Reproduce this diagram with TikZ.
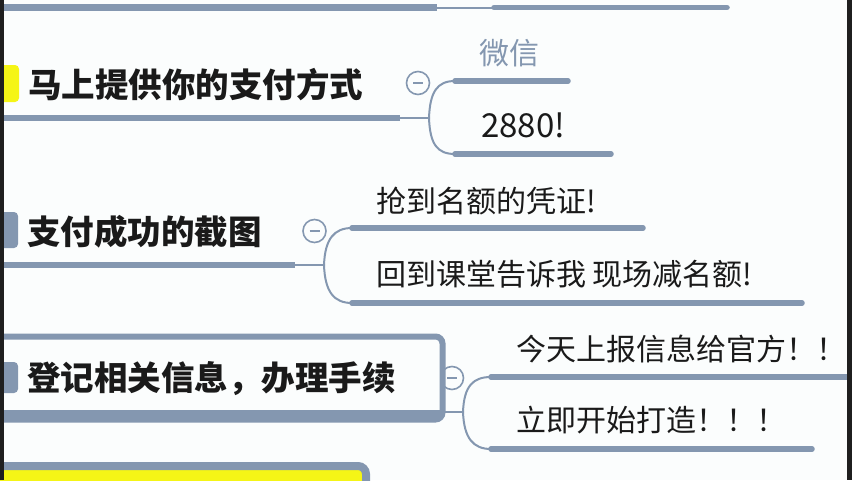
\documentclass[tikz,border=0pt]{standalone}
\usepackage{fontspec}
\newfontfamily\cjk{Noto Sans CJK SC}
\usetikzlibrary{positioning}
\definecolor{linegray}{RGB}{132,151,176}
\definecolor{bgwhite}{RGB}{251,253,253}
\definecolor{markyellow}{RGB}{245,245,22}
\definecolor{inkblack}{RGB}{26,26,26}

\begin{document}
\begin{tikzpicture}[x=1pt,y=-1pt,
  topic/.style={anchor=west,inner sep=0pt,text=inkblack,font=\cjk\bfseries\fontsize{33.5}{40}\selectfont},
  leaf/.style={anchor=west,inner sep=0pt,text=inkblack,font=\cjk\fontsize{30}{36}\selectfont},
  bar/.style={line width=6.5pt,linegray},
  subbar/.style={line width=5.5pt,linegray,line cap=round},
  twig/.style={line width=2pt,linegray},
  fold/.style={circle,draw=linegray,text=linegray,line width=1.6pt,minimum size=23pt,inner sep=0pt,fill=bgwhite},
  badge/.style={rounded corners=4pt}]
\useasboundingbox (0,0) rectangle (852,480);
\clip (0,0) rectangle (852,480);
\fill[bgwhite] (0,0) rectangle (852,480);

% end of the branch above
\draw[bar] (0,7.5) -- (437,7.5);
\draw[twig] (437,7.5) -- (492,7.5);
\draw[subbar] (494,7.5) -- (727,7.5);

% topic 1
\fill[markyellow,badge] (-12,65) rectangle (19,102);
\node[topic] (pay) at (28,85) {马上提供你的支付方式};
\coordinate (payend) at (400,118);
\coordinate (payfork) at (429,118);
\draw[bar] (0,118) -- (payend);
\draw[twig] (payend) -- (payfork);
\node[fold] (payfold) at (418,83) {\rule{10pt}{1.4pt}};
\node[leaf,text=linegray] (wx) at (479,53.5) {微信};
\node[leaf,font=\cjk\fontsize{33}{38}\selectfont] (sum) at (481,125.5) {2880!};
\coordinate (wxa) at (455,81);
\coordinate (suma) at (455,154);
\draw[twig] (payfork) .. controls +(1,-26) and +(-18,0) .. (wxa);
\draw[twig] (payfork) .. controls +(1,26) and +(-18,0) .. (suma);
\draw[subbar] (wxa) -- (568,81);
\draw[subbar] (suma) -- (611,154);

% topic 2
\fill[linegray,badge] (-12,212) rectangle (18,248);
\node[topic] (shot) at (27,232) {支付成功的截图};
\coordinate (shotend) at (295,265);
\coordinate (shotfork) at (324,265);
\draw[bar] (0,265) -- (shotend);
\draw[twig] (shotend) -- (shotfork);
\node[fold] (shotfold) at (314.5,231) {\rule{10pt}{1.4pt}};
\node[leaf] (proof) at (376,201.5) {抢到名额的凭证!};
\node[leaf] (back) at (376,274) {回到课堂告诉我 现场减名额!};
\coordinate (proofa) at (352,228);
\coordinate (backa) at (352,303);
\draw[twig] (shotfork) .. controls +(1,-26) and +(-18,0) .. (proofa);
\draw[twig] (shotfork) .. controls +(1,27) and +(-18,0) .. (backa);
\draw[subbar] (proofa) -- (643,228);
\draw[subbar] (backa) -- (802,303);

% topic 3 (selected)
\node[fold] (regfold) at (452,378) {\rule{10pt}{1.4pt}};
\draw[linegray,line width=6pt,rounded corners=7pt,fill=bgwhite] (-10,336.5) rectangle (442.5,419.5);
\fill[linegray,badge] (-12,362) rectangle (18,393);
\node[topic] (reg) at (27,379) {登记相关信息，办理手续};
\draw[line width=7pt,linegray] (0,413.5) -- (440,413.5);
\coordinate (regend) at (445,412);
\coordinate (regfork) at (463,412);
\draw[twig] (regend) -- (regfork);
\node[leaf] (report) at (516,348.5) {今天上报信息给官方！！};
\node[leaf] (start) at (516,420.5) {立即开始打造！！！};
\coordinate (reporta) at (491,377);
\coordinate (starta) at (491,449);
\draw[twig] (regfork) .. controls +(1,-26) and +(-18,0) .. (reporta);
\draw[twig] (regfork) .. controls +(1,26) and +(-18,0) .. (starta);
\draw[subbar] (reporta) -- (860,377);
\draw[subbar] (starta) -- (812,449);

% next topic, cut off
\draw[linegray,line width=8pt,rounded corners=8pt,fill=markyellow] (-10,466) rectangle (366,510);

% window edges
\fill[black!88] (0,0) rectangle (3.5,480);
\fill[black!88] (847,0) rectangle (852,480);
\end{tikzpicture}
\end{document}
